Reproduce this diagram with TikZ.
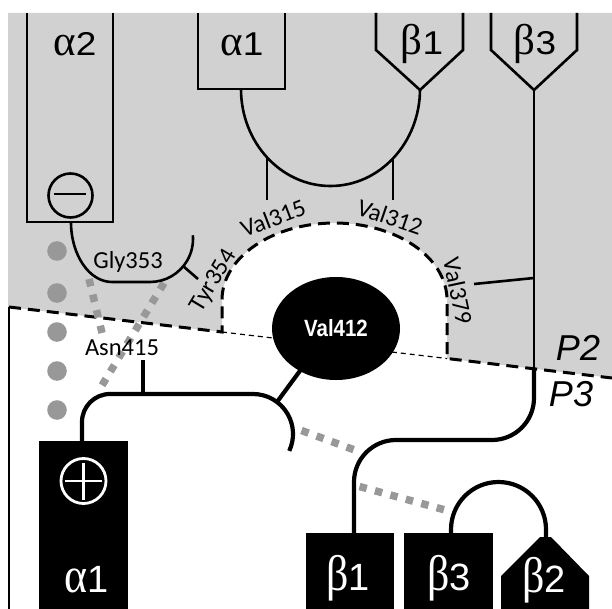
\documentclass[tikz,border=0pt]{standalone}
\usepackage{fontspec}
\usepackage{graphicx}
\setmainfont{Carlito}
\newfontfamily\lsans{Liberation Sans}
\newfontfamily\lserif{Liberation Serif}
\definecolor{greyfill}{RGB}{209,209,209}
\definecolor{dotgrey}{RGB}{152,152,152}
\newcommand{\toplab}[2]{{\lserif\fontsize{43}{43}\selectfont\scalebox{1.0}[1]{#1}}{\lsans\fontsize{33}{33}\selectfont\scalebox{1.12}[1]{#2}}}
\newcommand{\botlab}[2]{{\lserif\fontsize{50}{50}\selectfont\scalebox{0.88}[1]{#1}}{\lsans\fontsize{38}{38}\selectfont #2}}
\begin{document}
\begin{tikzpicture}[x=1pt,y=-1pt,line join=miter,
  topline/.style={line width=2.6pt,line cap=butt},
  conn/.style={line width=4.2pt,line cap=butt},
  resid/.style={font=\fontsize{24.5}{24.5}\selectfont,inner sep=0pt},
  hbond/.style={dotgrey,line width=7.5pt,dash pattern=on 7.5pt off 8.5pt,line cap=butt},
  boundary/.style={line width=3pt,dash pattern=on 12pt off 7pt},
  greekbox/.style={fill=black,draw=none}]
\useasboundingbox (0,0) rectangle (612,609);
% grey region (P2)
\fill[greyfill] (8,13) -- (612,13) -- (612,378) -- (447,358.5) -- (447,300)
  arc[start angle=0,end angle=-180,x radius=112.5,y radius=77] -- (222,332) -- (8,307) -- cycle;
% boundary
\draw[boundary] (9,307) -- (222,332) -- (222,300)
  arc[start angle=180,end angle=360,x radius=112.5,y radius=77] -- (447,358.5) -- (612,378);
\draw[line width=1.2pt,dash pattern=on 5pt off 4pt] (222,332) -- (447,358.5);
\draw[line width=1.5pt] (9,307) -- (9,609);
% grey dots
\foreach \yy [count=\i] in {251,293,332,371,410}
  \fill[dotgrey] (57,\yy) circle[radius=9.8] coordinate (dot\i);
% hydrogen bond lines
\coordinate (ha1) at (89,279); \coordinate (ha2) at (103,337);
\coordinate (hb1) at (164,283); \coordinate (hb2) at (98,392);
\coordinate (hc1) at (301.5,430.5); \coordinate (hc2) at (356,450.5);
\coordinate (hd1) at (359.5,486.5); \coordinate (hd2) at (447,510.5);
\draw[hbond] (ha1) -- (ha2);
\draw[hbond] (hb1) -- (hb2);
\draw[hbond] (hc1) -- (hc2);
\draw[hbond] (hd1) -- (hd2);
% top boxes
\draw[topline] (27,13) -- (27,222) -- (113,222) -- (113,13);
\draw[topline] (198,13) -- (198,89) -- (285,89) -- (285,13);
\draw[topline] (376,13) -- (376,50) -- (420,90) -- (463,50) -- (463,13);
\draw[topline] (491,13) -- (491,50) -- (534,90) -- (577,50) -- (577,13);
\node[anchor=base] (a2) at (75,56) {\toplab{α}{2}};
\node[anchor=base] (a1t) at (242,56) {\toplab{α}{1}};
\node[anchor=base] (b1t) at (422,55) {\toplab{β}{1}};
\node[anchor=base] (b3t) at (535,55) {\toplab{β}{3}};
% minus
\draw[line width=2.6pt] (70.5,195.5) circle[radius=22];
\draw[line width=2.6pt] (54,194) -- (86,194);
% alpha1/beta1 arc
\draw[topline] (241,89) arc[start angle=180,end angle=0,x radius=89.5,y radius=97];
\draw[topline] (267,158) -- (267,200);
\draw[topline] (393,159) -- (393,200);
% Gly353 bracket
\draw[topline] (71,222) arc[start angle=180,end angle=90,x radius=41,y radius=60] -- (150,282)
  arc[start angle=90,end angle=-5,radius=43];
\draw[topline] (183,266) -- (198,279);
% beta3 line and Val379
\draw[topline] (534,90) -- (534,372);
\draw[topline] (474,284) -- (534,278);
% residue labels
\node[resid] (gly) at (128,262) {Gly353};
\node[resid,rotate=59] (tyr) at (214,281) {Tyr354};
\node[resid,rotate=21] (v315) at (273,218) {Val315};
\node[resid,rotate=-19] (v312) at (390,217) {Val312};
\node[resid,rotate=-78] (v379) at (458,291) {Val379};
\node[resid] (asn) at (122,348) {Asn415};
% white region connectors
\draw[conn,rounded corners=28pt] (82,443) -- (82,394) -- (253,394);
\draw[conn] (253,394) arc[start angle=-90,end angle=25,radius=40];
\draw[conn] (143,360) -- (143,394);
\draw[conn] (277,402) -- (305,364);
\fill (336,328.5) ellipse[x radius=64,y radius=51.5];
\node[text=white,font=\lsans\bfseries\fontsize{23.5}{23.5}\selectfont] (v412) at (336,328.5) {\scalebox{0.87}[1]{Val412}};
\draw[conn,rounded corners=42pt] (534,368) -- (534,440) -- (354,440) -- (354,535);
\draw[conn] (451,535) -- (451,529.5) arc[start angle=180,end angle=360,radius=47.5] -- (546,540);
% P labels
\node[font=\lsans\itshape\fontsize{36}{36}\selectfont] (p2) at (578,348) {P2};
\node[font=\lsans\itshape\fontsize{36}{36}\selectfont] (p3) at (571,394) {P3};
% bottom boxes
\fill (39,441) rectangle (128,609);
\fill (306,533) rectangle (394,609);
\fill (404,533) rectangle (493,609);
\fill (501,609) -- (501,576) -- (540,537) -- (551,537) -- (589,576) -- (589,609) -- cycle;
\draw[white,line width=2.8pt] (83.5,481) circle[radius=22.5];
\draw[white,line width=2.8pt] (65,481) -- (102,481) (83.5,462.5) -- (83.5,499.5);
\node[anchor=base,text=white] (a1b) at (87,592) {\botlab{α}{1}};
\node[anchor=base,text=white] (b1b) at (348,590) {\botlab{β}{1}};
\node[anchor=base,text=white] (b3b) at (449,590) {\botlab{β}{3}};
\node[anchor=base,text=white] (b2b) at (544,592) {\botlab{β}{2}};
\end{tikzpicture}
\end{document}
